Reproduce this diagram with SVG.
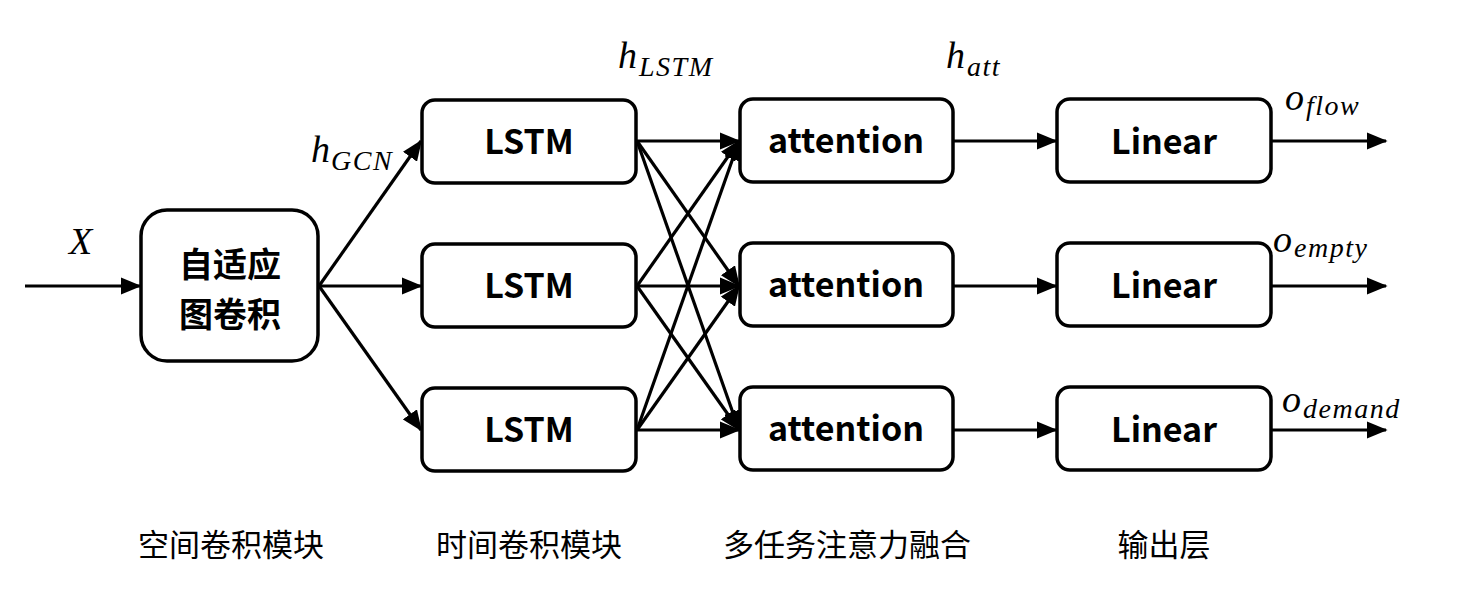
<svg xmlns="http://www.w3.org/2000/svg" width="1463" height="594" viewBox="0 0 1463 594">
<defs>
<marker id="ah" markerWidth="6.5" markerHeight="5.4" refX="6" refY="2.7" orient="auto" markerUnits="strokeWidth">
<path d="M0,0 L6.5,2.7 L0,5.4 Z" fill="#000"/>
</marker>
</defs>
<style>
.box{fill:#fff;stroke:#000;stroke-width:3.5}
.bt{font-family:"Noto Sans CJK SC","Noto Sans",sans-serif;font-weight:bold;font-size:34px;text-anchor:middle}
.ln{stroke:#000;stroke-width:3.2;fill:none;marker-end:url(#ah)}
.m{font-family:"Liberation Serif","DejaVu Serif",serif;font-style:italic;font-size:38px}
.s{font-size:28px;letter-spacing:1.5px}
.cap{font-family:"Noto Sans CJK SC",sans-serif;font-size:31px;text-anchor:middle}
</style>
<rect width="1463" height="594" fill="#fff"/>
<g id="connectors">
<line class="ln" x1="25" y1="286" x2="140" y2="286"/>
<line class="ln" x1="319" y1="286" x2="421" y2="141"/>
<line class="ln" x1="319" y1="286" x2="421" y2="286"/>
<line class="ln" x1="319" y1="286" x2="421" y2="430"/>
<line class="ln" x1="637" y1="141" x2="739" y2="141"/>
<line class="ln" x1="637" y1="141" x2="739" y2="286"/>
<line class="ln" x1="637" y1="141" x2="739" y2="430"/>
<line class="ln" x1="637" y1="286" x2="739" y2="141"/>
<line class="ln" x1="637" y1="286" x2="739" y2="286"/>
<line class="ln" x1="637" y1="286" x2="739" y2="430"/>
<line class="ln" x1="637" y1="430" x2="739" y2="141"/>
<line class="ln" x1="637" y1="430" x2="739" y2="286"/>
<line class="ln" x1="637" y1="430" x2="739" y2="430"/>
<line class="ln" x1="954" y1="141" x2="1056" y2="141"/>
<line class="ln" x1="954" y1="286" x2="1056" y2="286"/>
<line class="ln" x1="954" y1="430" x2="1056" y2="430"/>
<line class="ln" x1="1272" y1="141" x2="1386" y2="141"/>
<line class="ln" x1="1272" y1="286" x2="1386" y2="286"/>
<line class="ln" x1="1272" y1="430" x2="1386" y2="430"/>
</g>
<g id="gcn"><rect class="box" x="141" y="210" width="177" height="151" rx="26"/>
<text class="bt" x="230" y="277">自适应<tspan x="230" dy="50">图卷积</tspan></text></g>
<g id="lstm1"><rect class="box" x="422" y="100" width="214" height="83" rx="13"/><text class="bt" x="529" y="154">LSTM</text></g>
<g id="lstm2"><rect class="box" x="422" y="244" width="214" height="83" rx="13"/><text class="bt" x="529" y="298">LSTM</text></g>
<g id="lstm3"><rect class="box" x="422" y="388" width="214" height="83" rx="13"/><text class="bt" x="529" y="442">LSTM</text></g>
<g id="att1"><rect class="box" x="740" y="99" width="213" height="83" rx="13"/><text class="bt" x="846" y="153">attention</text></g>
<g id="att2"><rect class="box" x="740" y="243" width="213" height="83" rx="13"/><text class="bt" x="846" y="297">attention</text></g>
<g id="att3"><rect class="box" x="740" y="387" width="213" height="83" rx="13"/><text class="bt" x="846" y="441">attention</text></g>
<g id="lin1"><rect class="box" x="1057" y="99" width="214" height="83" rx="13"/><text class="bt" x="1164" y="154">Linear</text></g>
<g id="lin2"><rect class="box" x="1057" y="243" width="214" height="83" rx="13"/><text class="bt" x="1164" y="298">Linear</text></g>
<g id="lin3"><rect class="box" x="1057" y="387" width="214" height="83" rx="13"/><text class="bt" x="1164" y="442">Linear</text></g>
<g id="labels">
<text class="m" x="69" y="254">X</text>
<text class="m" x="311" y="162">h<tspan class="s" dx="1" dy="8" letter-spacing="0.5">GCN</tspan></text>
<text class="m" x="618" y="68">h<tspan class="s" dx="2" dy="8">LSTM</tspan></text>
<text class="m" x="946" y="68">h<tspan class="s" dx="2" dy="8">att</tspan></text>
<text class="m" x="1285" y="110">o<tspan class="s" dx="2" dy="5">flow</tspan></text>
<text class="m" x="1273" y="252">o<tspan class="s" dx="2" dy="5">empty</tspan></text>
<text class="m" x="1282" y="412">o<tspan class="s" dx="2" dy="6">demand</tspan></text>
</g>
<g id="captions">
<text class="cap" x="231" y="556">空间卷积模块</text>
<text class="cap" x="529" y="556">时间卷积模块</text>
<text class="cap" x="847" y="556">多任务注意力融合</text>
<text class="cap" x="1164" y="556">输出层</text>
</g>
</svg>
